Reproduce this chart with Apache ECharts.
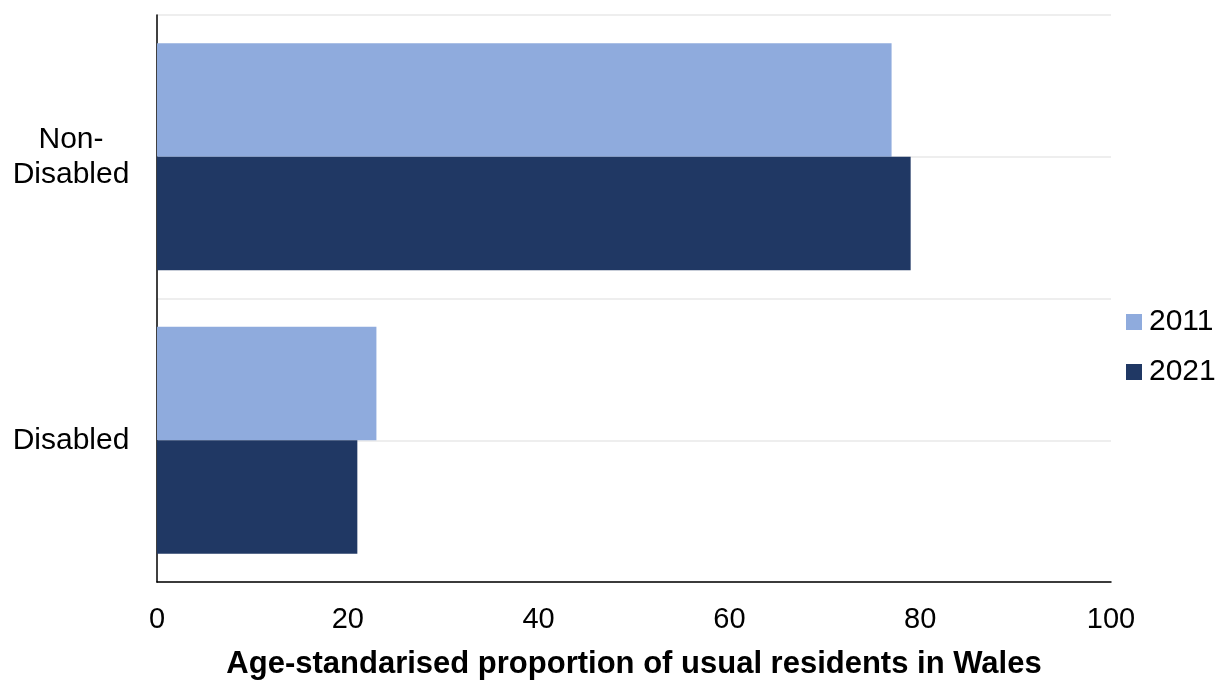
<!DOCTYPE html>
<html>
<head>
<meta charset="utf-8">
<script src="https://cdn.jsdelivr.net/npm/echarts@6/dist/echarts.min.js"></script>
<style>
  html, body { margin: 0; padding: 0; background: #ffffff; }
  #chart { width: 1215px; height: 684px; }
</style>
</head>
<body>
<div id="chart"></div>
<script>
// Age-standardised proportion of usual residents in Wales, by disability status
const categories = ['Non-\nDisabled', 'Disabled'];
const values2011 = [77, 23];
const values2021 = [79, 21];
const xTicks = [0, 20, 40, 60, 80, 100];

const FONT = '"Liberation Sans", Arial, sans-serif';

const chart = echarts.init(document.getElementById('chart'), null, { renderer: 'canvas' });

chart.setOption({
  animation: false,
  backgroundColor: '#ffffff',
  textStyle: { fontFamily: FONT },
  grid: { left: 157, right: 104, top: 15, bottom: 102, containLabel: false, outerBoundsMode: 'none' },
  legend: {
    orient: 'vertical',
    left: 1126,
    top: 307,
    icon: 'rect',
    itemWidth: 16,
    itemHeight: 16,
    itemGap: 20,
    padding: 0,
    textStyle: { fontFamily: FONT, fontSize: 30, lineHeight: 30, color: '#000000', padding: [0, 0, 0, 2] },
    data: ['2011', '2021']
  },
  xAxis: {
    type: 'value',
    min: xTicks[0],
    max: xTicks[xTicks.length - 1],
    interval: 20,
    name: 'Age-standarised proportion of usual residents in Wales',
    nameLocation: 'middle',
    nameGap: 67,
    nameTextStyle: { fontFamily: FONT, fontSize: 31, fontWeight: 'bold', color: '#000000' },
    axisLine: { show: true, lineStyle: { color: '#000000', width: 1.5 } },
    axisTick: { show: false },
    splitLine: { show: false },
    axisLabel: { fontFamily: FONT, fontSize: 29, color: '#000000', margin: 23 }
  },
  yAxis: [
    {
      type: 'category',
      inverse: true,
      data: categories,
      axisLine: { show: true, lineStyle: { color: '#000000', width: 1.5 } },
      axisTick: { show: false },
      splitLine: { show: false },
      axisLabel: {
        fontFamily: FONT, fontSize: 30, color: '#000000',
        align: 'center', margin: 86, lineHeight: 35
      }
    },
    {
      // quarter-band guide lines across the plot
      type: 'value',
      min: 0,
      max: 4,
      interval: 1,
      position: 'right',
      axisLine: { show: false },
      axisTick: { show: false },
      axisLabel: { show: false },
      splitLine: { show: true, lineStyle: { color: '#eeeeee', width: 2 } }
    }
  ],
  series: [
    {
      name: '2011',
      type: 'bar',
      yAxisIndex: 0,
      data: values2011,
      barGap: '0%',
      barCategoryGap: '20%',
      itemStyle: { color: '#8FABDD' }
    },
    {
      name: '2021',
      type: 'bar',
      yAxisIndex: 0,
      data: values2021,
      barGap: '0%',
      barCategoryGap: '20%',
      itemStyle: { color: '#203864' }
    }
  ]
});
</script>
</body>
</html>
